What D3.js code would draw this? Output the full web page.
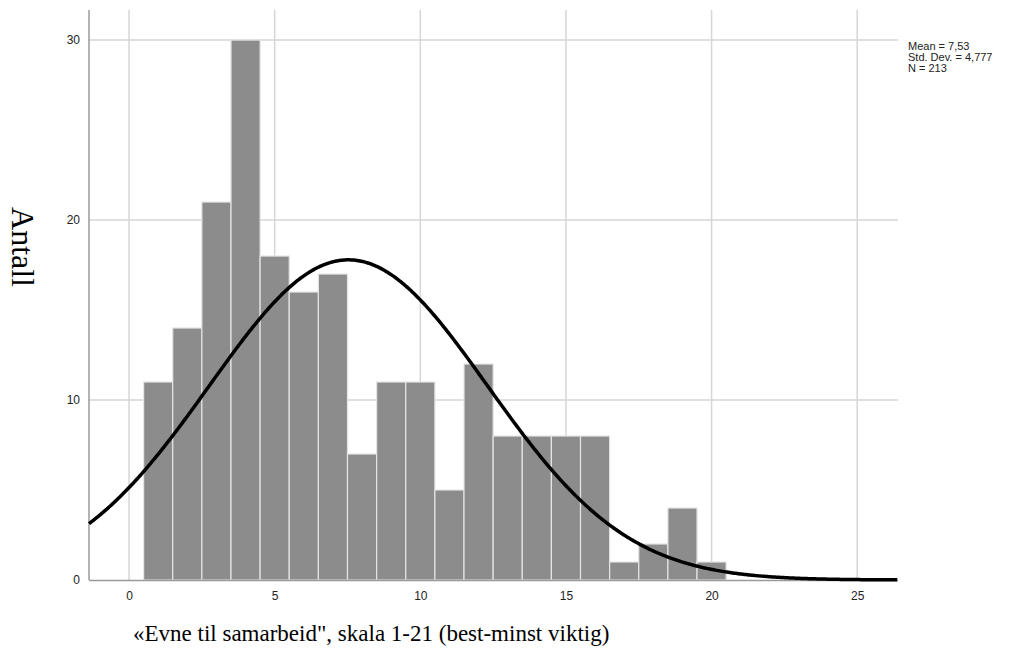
<!DOCTYPE html>
<meta charset="utf-8">
<style>
body { margin: 0; background: #fff; }
.tick text { font-family: Arial, "Liberation Sans", sans-serif; font-size: 12px; fill: #222; }
.grid line { stroke: #d6d6d6; stroke-width: 1.5; }
.title { font-family: "Times New Roman", "Liberation Serif", serif; fill: #000; }
.stats { font-family: Arial, "Liberation Sans", sans-serif; font-size: 11px; fill: #222; }
</style>
<svg width="1028" height="652"></svg>
<script src="https://d3js.org/d3.v7.min.js"></script>
<script>

// score 1..21 (bins of width 1) and counts
var scores = [1, 2, 3, 4, 5, 6, 7, 8, 9, 10, 11, 12, 13, 14, 15, 16, 17, 18, 19, 20];
var counts = [11, 14, 21, 30, 18, 16, 17, 7, 11, 11, 5, 12, 8, 8, 8, 8, 1, 2, 4, 1];

var xTicks = [0, 5, 10, 15, 20, 25];
var yTicks = [0, 10, 20, 30];

var mean = 7.53, sd = 4.777, n = 213;
var statLines = ["Mean = 7,53", "Std. Dev. = 4,777", "N = 213"];

var svg = d3.select("svg");

var plotLeft = 89, plotRight = 898, plotTop = 10, plotBottom = 580;

var x = d3.scaleLinear().domain([-1.375, 26.4]).range([plotLeft, plotRight]);
var y = d3.scaleLinear().domain([0, 31.67]).range([plotBottom, plotTop]);

// grid
var grid = svg.append("g").attr("class", "grid");
grid.selectAll("line.v")
  .data(xTicks)
  .enter().append("line")
  .attr("class", "v")
  .attr("x1", function(d) { return x(d); })
  .attr("x2", function(d) { return x(d); })
  .attr("y1", plotTop)
  .attr("y2", plotBottom);
grid.selectAll("line.h")
  .data(yTicks.slice(1))
  .enter().append("line")
  .attr("class", "h")
  .attr("x1", plotLeft)
  .attr("x2", plotRight)
  .attr("y1", function(d) { return y(d); })
  .attr("y2", function(d) { return y(d); });

// bars
svg.append("g")
  .selectAll("rect")
  .data(scores)
  .enter().append("rect")
  .attr("x", function(d) { return x(d - 0.5); })
  .attr("width", function(d) { return x(d + 0.5) - x(d - 0.5); })
  .attr("y", function(d, i) { return y(counts[i]); })
  .attr("height", function(d, i) { return y(0) - y(counts[i]); })
  .attr("fill", "#8c8c8c")
  .attr("stroke", "#e4e4e4")
  .attr("stroke-width", 1.2);

// axes
var xAxis = svg.append("g")
  .attr("transform", "translate(0," + plotBottom + ")")
  .call(d3.axisBottom(x).tickValues(xTicks).tickSize(0).tickPadding(11));
var yAxis = svg.append("g")
  .attr("transform", "translate(" + plotLeft + ",0)")
  .call(d3.axisLeft(y).tickValues(yTicks).tickSize(0).tickPadding(9));
xAxis.select(".domain").attr("d", "M" + plotLeft + ",0.5H" + plotRight).attr("stroke", "#9a9a9a").attr("stroke-width", 1.5);
yAxis.select(".domain").attr("d", "M0," + plotTop + "V" + plotBottom).attr("stroke", "#9a9a9a").attr("stroke-width", 1.5);

// normal curve scaled to counts (bin width 1)
var curvePts = d3.range(x.domain()[0], x.domain()[1] + 0.01, 0.05).map(function(v) {
  var z = (v - mean) / sd;
  return [v, n / (sd * Math.sqrt(2 * Math.PI)) * Math.exp(-z * z / 2)];
});
svg.append("path")
  .datum(curvePts)
  .attr("fill", "none")
  .attr("stroke", "#000")
  .attr("stroke-width", 3.5)
  .attr("d", d3.line()
    .x(function(d) { return x(d[0]); })
    .y(function(d) { return y(d[1]); }));

// titles
svg.append("text")
  .attr("class", "title")
  .attr("transform", "translate(12,247) rotate(90)")
  .attr("text-anchor", "middle")
  .style("font-size", "32px")
  .text("Antall");

svg.append("text")
  .attr("class", "title")
  .attr("x", 133)
  .attr("y", 641)
  .style("font-size", "23px")
  .text("«Evne til samarbeid\", skala 1-21 (best-minst viktig)");

// summary stats
svg.append("g")
  .selectAll("text")
  .data(statLines)
  .enter().append("text")
  .attr("class", "stats")
  .attr("x", 908)
  .attr("y", function(d, i) { return 50 + i * 11; })
  .text(function(d) { return d; });

</script>
